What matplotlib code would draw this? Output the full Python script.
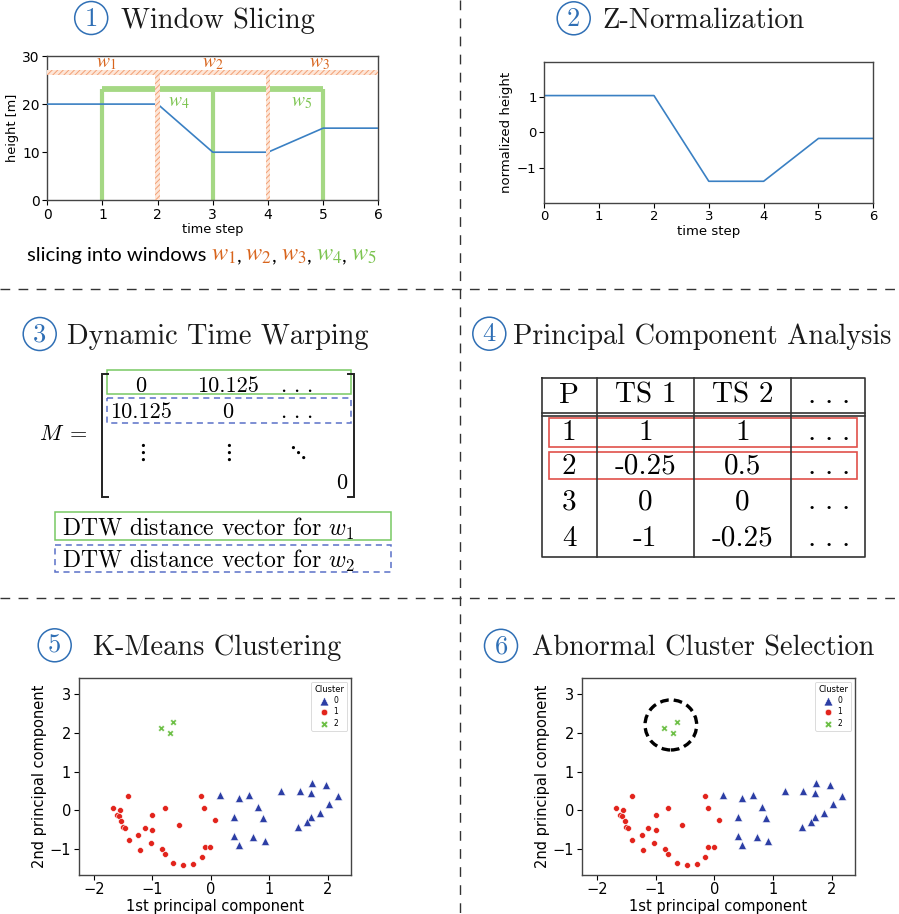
import numpy as np
import matplotlib
matplotlib.use('Agg')
import matplotlib.pyplot as plt
from matplotlib.patches import Rectangle, Circle, Ellipse

plt.rcParams['mathtext.fontset'] = 'cm'
plt.rcParams['hatch.linewidth'] = 0.7

W, H = 899, 914

# ---- data ----
time_steps = [0, 1, 2, 3, 4, 5, 6]
height_m = [20, 20, 20, 10, 10, 15, 15]
norm_height = [1.03, 1.03, 1.03, -1.37, -1.37, -0.17, -0.17]

orange_edges = [2, 4]          # borders between w1, w2, w3
green_edges = [1, 3, 5]        # borders of w4, w5
orange_names = ['$w_1$', '$w_2$', '$w_3$']
orange_pos = [1.06, 3.0, 4.94]
green_names = ['$w_4$', '$w_5$']
green_pos = [2.39, 4.61]

DOTS = r'$.\,.\,.$'
dtw_row1 = ['0', '10.125', DOTS]
dtw_row2 = ['10.125', '0', DOTS]
dtw_last = '0'

pca_header = ['P', 'TS 1', 'TS 2', DOTS]
pca_rows = [
    ['1', '1', '1', DOTS],
    ['2', '-0.25', '0.5', DOTS],
    ['3', '0', '0', DOTS],
    ['4', '-1', '-0.25', DOTS],
]

c0_x = [0.15, 0.48, 0.66, 0.81, 0.40, 0.89, 0.40, 0.48, 0.73, 0.92, 1.20,
        1.52, 1.73, 1.72, 1.98, 2.17, 2.02, 1.87, 1.72, 1.65, 1.50]
c0_y = [0.39, 0.32, 0.39, 0.09, -0.18, -0.20, -0.67, -0.90, -0.68, -0.79, 0.50,
        0.49, 0.70, 0.45, 0.66, 0.37, 0.16, -0.07, -0.18, -0.31, -0.43]
c1_x = [-1.68, -1.55, -1.60, -1.57, -1.53, -1.50, -1.47, -1.41, -1.40, -1.24,
        -1.21, -1.13, -1.00, -1.00, -1.02, -0.84, -0.78, -0.78, -0.64, -0.55,
        -0.47, -0.30, -0.16, -0.15, -0.11, -0.10, -0.01, 0.08]
c1_y = [0.06, 0.01, -0.11, -0.15, -0.27, -0.42, -0.45, 0.37, -0.77, -0.63,
        -1.03, -0.45, -0.12, -0.50, -0.85, -1.01, -1.13, 0.07, -1.37, -0.38,
        -1.42, -1.38, 0.36, -1.20, 0.07, -0.95, -0.95, -0.25]
c2_x = [-0.85, -0.64, -0.70]
c2_y = [2.11, 2.28, 2.00]

BLUE_LINE = '#3a80c3'
ORANGE = '#d8641c'
GREEN = '#7cc450'
CIRC_BLUE = '#2f6fb5'

fig = plt.figure(figsize=(W / 100, H / 100), dpi=100)


def px_axes(l, t, r, b):
    return fig.add_axes([l / W, 1 - b / H, (r - l) / W, (b - t) / H])


def style_axes(ax):
    for s in ax.spines.values():
        s.set_color('#444444')
        s.set_linewidth(1.0)


# ---- panel 1: window slicing ----
ax1 = px_axes(47.3, 56, 378.3, 200.3)
ax1.plot(time_steps, height_m, color=BLUE_LINE, lw=1.2, zorder=3)
ax1.hlines(23.1, green_edges[0], green_edges[-1], color='#a5d884', lw=4.2,
           zorder=2)
ax1.vlines(green_edges, 0, 23.1, color='#a5d884', lw=3, zorder=2)
ax1.add_patch(Rectangle((0, 26.0), 6, 1.1, facecolor='#fde6d8',
                        edgecolor='#f3a176', hatch='//////', lw=0, zorder=4))
for xe in orange_edges:
    ax1.add_patch(Rectangle((xe - 0.04, 0), 0.08, 26.0, facecolor='#fde6d8',
                            edgecolor='#f3a176', hatch='//////', lw=0, zorder=4))
for name, xp in zip(orange_names, orange_pos):
    ax1.text(xp, 28.6, name, color=ORANGE, fontsize=14, ha='center',
             va='center', math_fontfamily='stix')
for name, xp in zip(green_names, green_pos):
    ax1.text(xp, 20.6, name, color=GREEN, fontsize=14, ha='center',
             va='center', math_fontfamily='stix')
ax1.set_xlim(0, 6)
ax1.set_ylim(0, 30)
ax1.set_xticks(time_steps)
ax1.set_yticks([0, 10, 20, 30])
ax1.tick_params(labelsize=10, pad=2)
ax1.set_xlabel('time step', fontsize=9.3, labelpad=1)
ax1.set_ylabel('height [m]', fontsize=9.3, labelpad=2)
style_axes(ax1)

# ---- panel 2: z-normalization ----
ax2 = px_axes(544.3, 62, 873.3, 202.7)
ax2.plot(time_steps, norm_height, color=BLUE_LINE, lw=1.2)
ax2.set_xlim(0, 6)
ax2.set_ylim(-1.97, 1.97)
ax2.set_xticks(time_steps)
ax2.set_yticks([-1, 0, 1])
ax2.tick_params(labelsize=9.5, pad=2)
ax2.set_xlabel('time step', fontsize=9.5, labelpad=1)
ax2.set_ylabel('normalized height', fontsize=9.5, labelpad=3)
style_axes(ax2)


# ---- panels 5 and 6: clustering ----
def cluster_panel(ax):
    ax.scatter(c0_x, c0_y, marker='^', s=34, color='#2c3ea5',
               edgecolors='white', linewidths=0.4, label='0', zorder=3)
    ax.scatter(c1_x, c1_y, marker='o', s=18, color='#e2241c',
               edgecolors='white', linewidths=0.4, label='1', zorder=3)
    ax.scatter(c2_x, c2_y, marker='X', s=22, color='#6cbf45',
               edgecolors='white', linewidths=0.4, label='2', zorder=3)
    ax.set_xlim(-2.26, 2.40)
    ax.set_ylim(-1.66, 3.41)
    ax.set_xticks([-2, -1, 0, 1, 2])
    ax.set_yticks([-1, 0, 1, 2, 3])
    ax.tick_params(labelsize=10.5, pad=2)
    ax.set_xlabel('1st principal component', fontsize=10.5, labelpad=1)
    ax.set_ylabel('2nd principal component', fontsize=10.5, labelpad=2)
    leg = ax.legend(title='Cluster', loc='upper right', fontsize=5.5,
                    title_fontsize=6, borderpad=0.4, labelspacing=0.3,
                    handletextpad=0.6, borderaxespad=0.5, handlelength=1.2,
                    markerscale=1.1)
    leg.get_frame().set_linewidth(0.6)
    style_axes(ax)


ax5 = px_axes(78.7, 678, 351, 874.7)
cluster_panel(ax5)
ax6 = px_axes(581.7, 678, 855, 874.7)
cluster_panel(ax6)
ax6.add_patch(Ellipse((-0.74, 2.2), 0.88, 1.29, fill=False, edgecolor='black',
                      lw=2.4, linestyle=(0, (2.6, 1.5)), zorder=4))

# ---- overlay in pixel coordinates for titles, matrix and table ----
ov = fig.add_axes([0, 0, 1, 1])
ov.set_xlim(0, W)
ov.set_ylim(H, 0)
ov.set_axis_off()

# dashed dividers
div = dict(color='#333333', lw=1.0, linestyle=(0, (7, 6)))
ov.plot([460, 460], [0, H], **div)
ov.plot([0, W], [289, 289], **div)
ov.plot([0, W], [598, 598], **div)

titles = [
    ('1', 91.2, 18.0, 120.7, 'Window Slicing'),
    ('2', 573.7, 18.3, 602.3, 'Z-Normalization'),
    ('3', 39.7, 334.0, 66.7, 'Dynamic Time Warping'),
    ('4', 489.3, 333.7, 513.3, 'Principal Component Analysis'),
    ('5', 54.7, 645.3, 92.7, 'K-Means Clustering'),
    ('6', 501.0, 645.8, 531.7, 'Abnormal Cluster Selection'),
]
for num, cx, cy, tx, label in titles:
    ov.add_patch(Circle((cx, cy), 16.5, fill=False, edgecolor=CIRC_BLUE,
                        lw=1.1))
    ov.text(cx, cy + 7.5, num, color=CIRC_BLUE, fontsize=19, ha='center',
            va='baseline', family='cmr10')
    ov.text(tx, cy + 10, label, color='#1a1a1a', fontsize=20.4, ha='left',
            va='baseline', family='cmr10')

# slicing caption, pieces chained left to right
rend = fig.canvas.get_renderer()
xc = 26.7
pieces = [('slicing into windows', 'black', 5)]
for name in orange_names:
    pieces += [(name, ORANGE, 0.5), (',', 'black', 4)]
for i, name in enumerate(green_names):
    pieces += [(name, GREEN, 0.5)]
    if i < len(green_names) - 1:
        pieces += [(',', 'black', 4)]
for s, col, gap in pieces:
    if s.startswith('$'):
        t = ov.text(xc, 261, s, color=col, fontsize=17.5, va='baseline',
                    math_fontfamily='stix')
    else:
        t = ov.text(xc, 261, s, color=col, fontsize=14.6, va='baseline',
                    family='Lato')
    xc += t.get_window_extent(renderer=rend).width + gap

# matrix M
ov.text(88, 440, r'$M\;=$', fontsize=16, ha='right', va='baseline')
for bx, sgn in [(101.7, 1), (354.3, -1)]:
    ov.plot([bx + sgn * 6.5, bx, bx, bx + sgn * 6.5], [374, 374, 496.7, 496.7],
            color='#222222', lw=1.4, solid_joinstyle='miter')
col_x = [141, 227.5, 296]
for j, v in enumerate(dtw_row1):
    ov.text(col_x[j], 391.7, v, fontsize=16, ha='center', va='baseline',
            family='cmr10')
for j, v in enumerate(dtw_row2):
    ov.text(col_x[j], 418.3, v, fontsize=16, ha='center', va='baseline',
            family='cmr10')
for j, sym in enumerate([r'$\vdots$', r'$\vdots$', r'$\ddots$']):
    ov.text(col_x[j], 451.7, sym, fontsize=18, ha='center', va='center')
ov.text(341.7, 489.3, dtw_last, fontsize=16, ha='center', va='baseline',
        family='cmr10')
ov.add_patch(Rectangle((107.3, 370), 243.7, 24.3, fill=False,
                       edgecolor='#78c963', lw=1.1))
ov.add_patch(Rectangle((107.3, 398.3), 243.7, 24.4, fill=False,
                       edgecolor='#5a70c8', lw=1.1, linestyle=(0, (4, 3))))
ov.add_patch(Rectangle((55, 511.7), 336, 28.3, fill=False,
                       edgecolor='#78c963', lw=1.1))
ov.add_patch(Rectangle((55, 545), 336, 26.7, fill=False,
                       edgecolor='#5a70c8', lw=1.1, linestyle=(0, (4, 3))))
ov.text(61.7, 536, r'DTW distance vector for $w_1$', fontsize=17,
        va='baseline', family='cmr10')
ov.text(61.7, 568.3, r'DTW distance vector for $w_2$', fontsize=17,
        va='baseline', family='cmr10')

# PCA table
t_left, t_right, t_top, t_bot = 541.7, 865, 377.7, 556.7
col_lines = [596.7, 694, 791]
tab = dict(color='#333333', lw=1.2)
ov.plot([t_left, t_right, t_right, t_left, t_left],
        [t_top, t_top, t_bot, t_bot, t_top], **tab)
for cxl in col_lines:
    ov.plot([cxl, cxl], [t_top, t_bot], **tab)
ov.plot([t_left, t_right], [413, 413], **tab)
ov.plot([t_left, t_right], [415.5, 415.5], **tab)
cell_x = [569.2, 645.3, 742.5, 828]
for j, v in enumerate(pca_header):
    ov.text(cell_x[j], 402.7, v, fontsize=21, ha='center', va='baseline',
            family='cmr10')
row_base = [440, 474, 509.3, 546]
for i, row in enumerate(pca_rows):
    for j, v in enumerate(row):
        ov.text(cell_x[j], row_base[i], v, fontsize=21, ha='center',
                va='baseline', family='cmr10')
ov.add_patch(Rectangle((549.3, 417.7), 308, 29.3, fill=False,
                       edgecolor='#e0504a', lw=1.2))
ov.add_patch(Rectangle((549.3, 451.7), 308, 27.6, fill=False,
                       edgecolor='#e0504a', lw=1.2))

fig.savefig('out.png', dpi=100)
